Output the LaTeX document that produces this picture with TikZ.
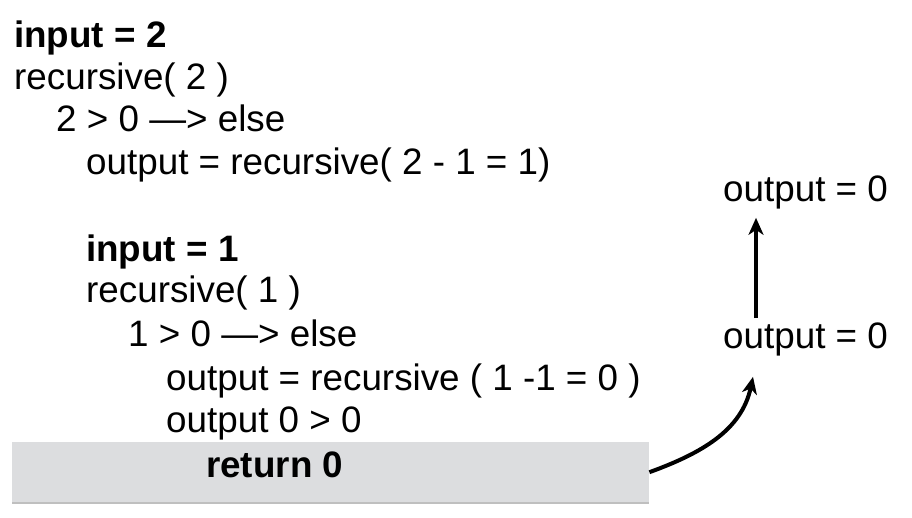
\documentclass[tikz,border=0pt]{standalone}
\usepackage{fontspec}
\setmainfont{Liberation Sans}
\usetikzlibrary{arrows.meta,shadows}
\definecolor{boxgray}{RGB}{220,221,223}
\begin{document}
\begin{tikzpicture}[x=1pt, y=-1pt,
    code/.style={anchor=base west, inner sep=0pt, font=\fontsize{36.8}{40}\selectfont},
    result/.style={code, inner sep=4pt},
    retbox/.style={fill=boxgray, anchor=north west, minimum width=637pt, minimum height=60pt,
        drop shadow={shadow xshift=0pt, shadow yshift=-2pt, opacity=.5}},
    flow/.style={-{Stealth[length=17pt, width=15pt, inset=5pt]}, line width=4pt}]

    \useasboundingbox (0,0) rectangle (912,518);

    % Highlighted return line
    \node[retbox] (box) at (12,442) {};

    % First call
    \node[code] (l1) at (14,48) {\bfseries input = 2};
    \node[code] (l2) at (14,90) {recursive( 2 )};
    \node[code] (l3) at (56,132) {2 > 0 —> else};
    \node[code] (l4) at (86,175) {output = recursive( 2 - 1 = 1)};

    % Second call
    \node[code] (l5) at (86,262) {\bfseries input = 1};
    \node[code] (l6) at (86,303) {recursive( 1 )};
    \node[code] (l7) at (128,346) {1 > 0 —> else};
    \node[code] (l8) at (166,390) {output = recursive ( 1 -1 = 0 )};
    \node[code] (l9) at (166,432) {output 0 > 0};
    \node[code] (l10) at (206,477) {\bfseries return 0};

    % Values passed back up
    \node[result] (outB) at (719,348) {output = 0};
    \node[result] (outA) at (719,202) {output = 0};

    \draw[flow] (box.east) to[out=20, in=-102] ([xshift=34pt, yshift=-17pt]outB.south west);
    \draw[flow] ([xshift=37pt]outB.north west) -- ([xshift=37pt, yshift=-4pt]outA.south west);

\end{tikzpicture}
\end{document}
